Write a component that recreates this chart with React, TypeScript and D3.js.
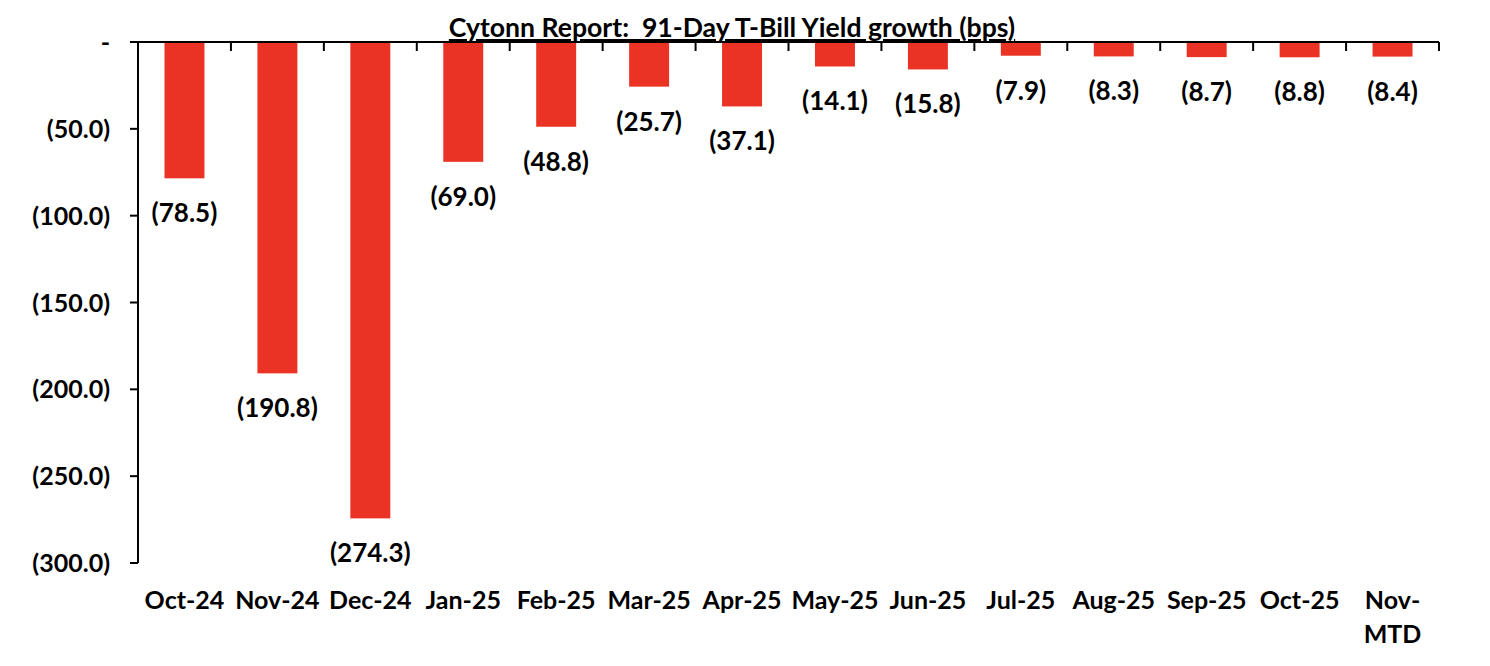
import React, { useEffect, useRef } from "react";
import * as d3 from "d3";

const categories: string[] = [
  "Oct-24", "Nov-24", "Dec-24", "Jan-25", "Feb-25", "Mar-25", "Apr-25",
  "May-25", "Jun-25", "Jul-25", "Aug-25", "Sep-25", "Oct-25", "Nov-MTD",
];
const values: number[] = [
  -78.5, -190.8, -274.3, -69.0, -48.8, -25.7, -37.1,
  -14.1, -15.8, -7.9, -8.3, -8.7, -8.8, -8.4,
];
const yTicks: number[] = [0, -50, -100, -150, -200, -250, -300];
const title = "Cytonn Report:  91-Day T-Bill Yield growth (bps)";

const W = 1490;
const H = 666;
const FONT = "Lato, 'Open Sans', sans-serif";
const RED = "#EA3324";

function fmt(v: number): string {
  if (v === 0) return "-";
  const s = Math.abs(v).toFixed(1);
  return v < 0 ? `(${s})` : s;
}

export default function App() {
  const ref = useRef<SVGSVGElement | null>(null);

  useEffect(() => {
    const svg = d3.select(ref.current);
    svg.selectAll("*").remove();

    const left = 138, right = 1439, top = 42, bottom = 563;
    const x = d3.scaleBand<string>().domain(categories).range([left, right])
      .paddingInner(0.57).paddingOuter(0.285);
    const y = d3.scaleLinear().domain([-300, 0]).range([bottom, top]);
    const step = x.step();

    const g = svg.append("g");

    // bars
    g.selectAll("rect.bar").data(values).enter().append("rect")
      .attr("class", "bar")
      .attr("x", (_d, i) => x(categories[i]) as number)
      .attr("width", x.bandwidth())
      .attr("y", y(0))
      .attr("height", (d) => y(d) - y(0))
      .attr("fill", RED);

    // value labels
    g.selectAll("text.val").data(values).enter().append("text")
      .attr("class", "val")
      .attr("x", (_d, i) => (x(categories[i]) as number) + x.bandwidth() / 2)
      .attr("y", (d) => y(d) + 44)
      .attr("text-anchor", "middle")
      .attr("font-family", FONT)
      .attr("font-weight", 700)
      .attr("font-size", 26)
      .attr("fill", "#000")
      .text((d) => fmt(d));

    // y axis
    g.append("line").attr("x1", left).attr("x2", left)
      .attr("y1", top).attr("y2", bottom)
      .attr("stroke", "#000").attr("stroke-width", 2);
    yTicks.forEach((t) => {
      g.append("line").attr("x1", left - 8).attr("x2", left)
        .attr("y1", y(t)).attr("y2", y(t))
        .attr("stroke", "#000").attr("stroke-width", 2);
      g.append("text")
        .attr("x", 110).attr("y", y(t) + 9)
        .attr("text-anchor", "end")
        .attr("font-family", FONT).attr("font-weight", 700).attr("font-size", 25)
        .attr("fill", "#000")
        .text(fmt(t));
    });

    // x axis at zero (top)
    g.append("line").attr("x1", left).attr("x2", right)
      .attr("y1", y(0)).attr("y2", y(0))
      .attr("stroke", "#000").attr("stroke-width", 2);
    for (let i = 1; i <= categories.length; i++) {
      const xx = left + step * i;
      g.append("line").attr("x1", xx).attr("x2", xx)
        .attr("y1", y(0)).attr("y2", y(0) + 9)
        .attr("stroke", "#000").attr("stroke-width", 2);
    }

    // category labels
    categories.forEach((c) => {
      const cx = (x(c) as number) + x.bandwidth() / 2;
      const parts = c === "Nov-MTD" ? ["Nov-", "MTD"] : [c];
      const t = g.append("text")
        .attr("text-anchor", "middle")
        .attr("font-family", FONT).attr("font-weight", 700).attr("font-size", 25)
        .attr("fill", "#000");
      parts.forEach((p, j) => {
        t.append("tspan").attr("x", cx).attr("y", 609 + j * 34).text(p);
      });
    });

    // title
    g.append("text")
      .attr("x", 732).attr("y", 37)
      .attr("text-anchor", "middle")
      .attr("font-family", FONT).attr("font-weight", 700).attr("font-size", 26.6)
      .attr("text-decoration", "underline")
      .attr("fill", "#000")
      .style("white-space", "pre")
      .attr("xml:space", "preserve")
      .text(title);
  }, []);

  return (
    <svg
      ref={ref}
      width={W}
      height={H}
      style={{ position: "absolute", left: 0, top: 0, background: "#fff", display: "block" }}
    />
  );
}
